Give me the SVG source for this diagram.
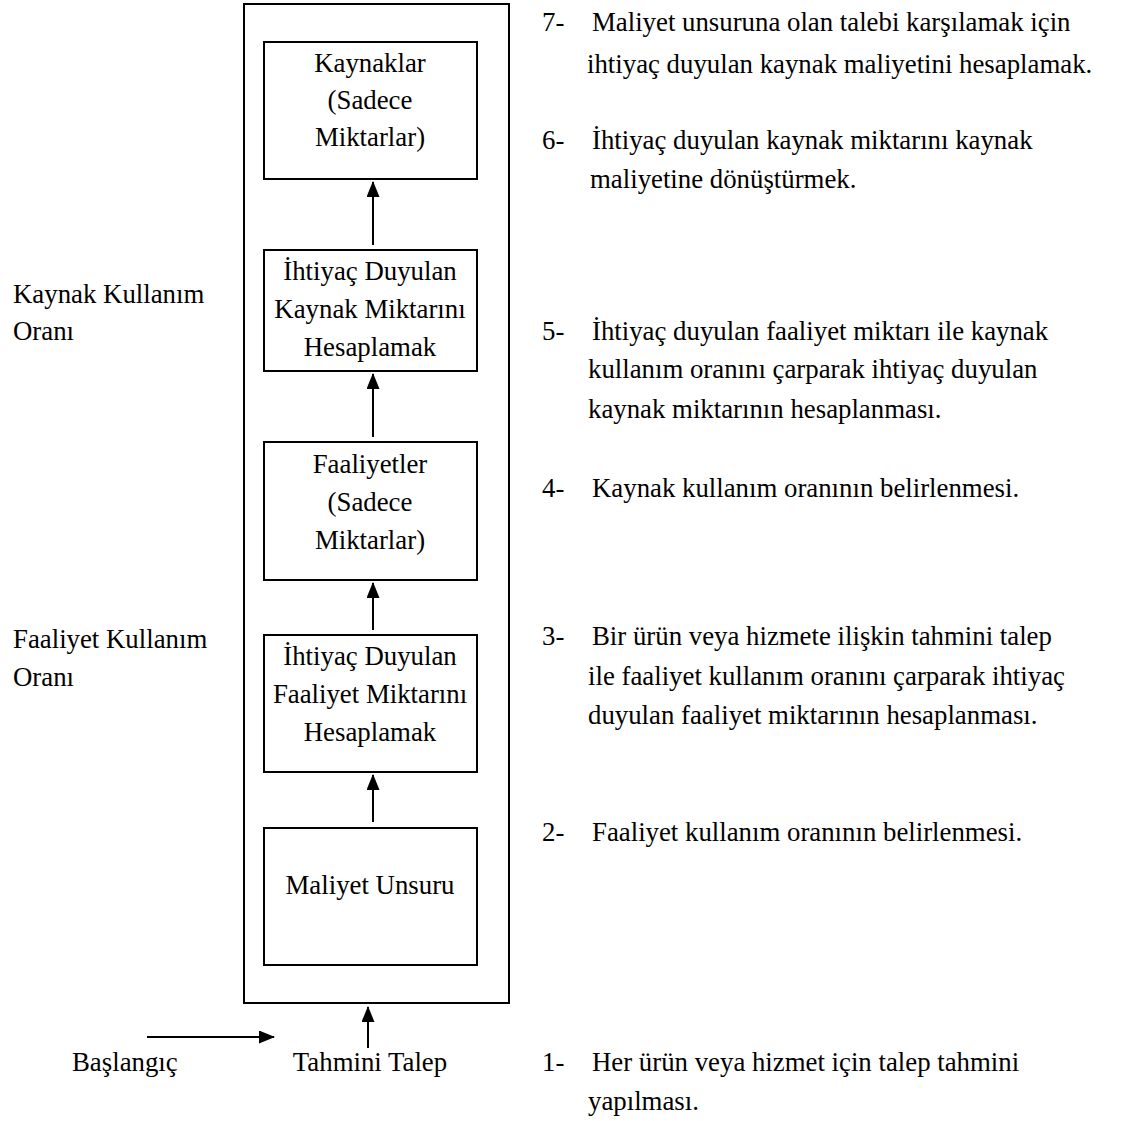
<svg xmlns="http://www.w3.org/2000/svg" width="1125" height="1121" viewBox="0 0 1125 1121">
  <style>
    text { font-size: 26.8px; fill: #000; }
    .mid { text-anchor: middle; }
    .box { fill: #fff; stroke: #000; stroke-width: 2; }
    .frame { fill: none; stroke: #000; stroke-width: 2; }
    .conn { stroke: #000; stroke-width: 2; fill: none; marker-end: url(#arrow); }
  </style>
  <defs>
    <marker id="arrow" viewBox="0 0 16 13" refX="15" refY="6.5" markerWidth="16" markerHeight="13" markerUnits="userSpaceOnUse" orient="auto">
      <path d="M0,0 L16,6.5 L0,13 Z" fill="#000"/>
    </marker>
  </defs>

  <rect width="1125" height="1121" fill="#fff"/>

  <g font-family="Liberation Serif, DejaVu Serif, Times New Roman, serif">

  <!-- outer frame around the calculation chain -->
  <rect id="frame" class="frame" x="244" y="4" width="265" height="999"/>

  <g id="kaynaklar">
    <rect class="box" x="264" y="42" width="213" height="137"/>
    <text class="mid" x="370" y="72">Kaynaklar</text>
    <text class="mid" x="370" y="109">(Sadece</text>
    <text class="mid" x="370" y="146">Miktarlar)</text>
  </g>

  <g id="kaynak-miktari">
    <rect class="box" x="264" y="250" width="213" height="121"/>
    <text class="mid" x="370" y="280">İhtiyaç Duyulan</text>
    <text class="mid" x="370" y="318">Kaynak Miktarını</text>
    <text class="mid" x="370" y="356">Hesaplamak</text>
  </g>

  <g id="faaliyetler">
    <rect class="box" x="264" y="442" width="213" height="138"/>
    <text class="mid" x="370" y="473">Faaliyetler</text>
    <text class="mid" x="370" y="511">(Sadece</text>
    <text class="mid" x="370" y="549">Miktarlar)</text>
  </g>

  <g id="faaliyet-miktari">
    <rect class="box" x="264" y="635" width="213" height="137"/>
    <text class="mid" x="370" y="665">İhtiyaç Duyulan</text>
    <text class="mid" x="370" y="703">Faaliyet Miktarını</text>
    <text class="mid" x="370" y="741">Hesaplamak</text>
  </g>

  <g id="maliyet-unsuru">
    <rect class="box" x="264" y="828" width="213" height="137"/>
    <text class="mid" x="370" y="894">Maliyet Unsuru</text>
  </g>

  <g id="baslangic">
    <text x="72" y="1071">Başlangıç</text>
  </g>

  <g id="tahmini-talep">
    <text class="mid" x="370" y="1071">Tahmini Talep</text>
  </g>

  <g id="connectors">
    <line class="conn" x1="373" y1="245" x2="373" y2="182"/>
    <line class="conn" x1="373" y1="437" x2="373" y2="374"/>
    <line class="conn" x1="373" y1="630" x2="373" y2="583"/>
    <line class="conn" x1="373" y1="822" x2="373" y2="775"/>
    <line class="conn" x1="368" y1="1048" x2="368" y2="1007"/>
    <line class="conn" x1="147" y1="1037" x2="274" y2="1037"/>
  </g>

  <!-- rate labels on the left -->
  <g id="kaynak-kullanim-orani">
    <text x="13" y="303">Kaynak Kullanım</text>
    <text x="13" y="340">Oranı</text>
  </g>
  <g id="faaliyet-kullanim-orani">
    <text x="13" y="648">Faaliyet Kullanım</text>
    <text x="13" y="686">Oranı</text>
  </g>

  <!-- numbered steps on the right -->
  <g id="step-7">
    <text x="542" y="31">7-</text>
    <text x="592" y="31">Maliyet unsuruna olan talebi karşılamak için</text>
    <text x="587" y="73">ihtiyaç duyulan kaynak maliyetini hesaplamak.</text>
  </g>
  <g id="step-6">
    <text x="542" y="149">6-</text>
    <text x="592" y="149">İhtiyaç duyulan kaynak miktarını kaynak</text>
    <text x="590" y="188">maliyetine dönüştürmek.</text>
  </g>
  <g id="step-5">
    <text x="542" y="340">5-</text>
    <text x="592" y="340">İhtiyaç duyulan faaliyet miktarı ile kaynak</text>
    <text x="588" y="378">kullanım oranını çarparak ihtiyaç duyulan</text>
    <text x="588" y="418">kaynak miktarının hesaplanması.</text>
  </g>
  <g id="step-4">
    <text x="542" y="497">4-</text>
    <text x="592" y="497">Kaynak kullanım oranının belirlenmesi.</text>
  </g>
  <g id="step-3">
    <text x="542" y="645">3-</text>
    <text x="592" y="645">Bir ürün veya hizmete ilişkin tahmini talep</text>
    <text x="588" y="685">ile faaliyet kullanım oranını çarparak ihtiyaç</text>
    <text x="588" y="724">duyulan faaliyet miktarının hesaplanması.</text>
  </g>
  <g id="step-2">
    <text x="542" y="841">2-</text>
    <text x="592" y="841">Faaliyet kullanım oranının belirlenmesi.</text>
  </g>
  <g id="step-1">
    <text x="542" y="1071">1-</text>
    <text x="592" y="1071">Her ürün veya hizmet için talep tahmini</text>
    <text x="588" y="1110">yapılması.</text>
  </g>

  </g>
</svg>
